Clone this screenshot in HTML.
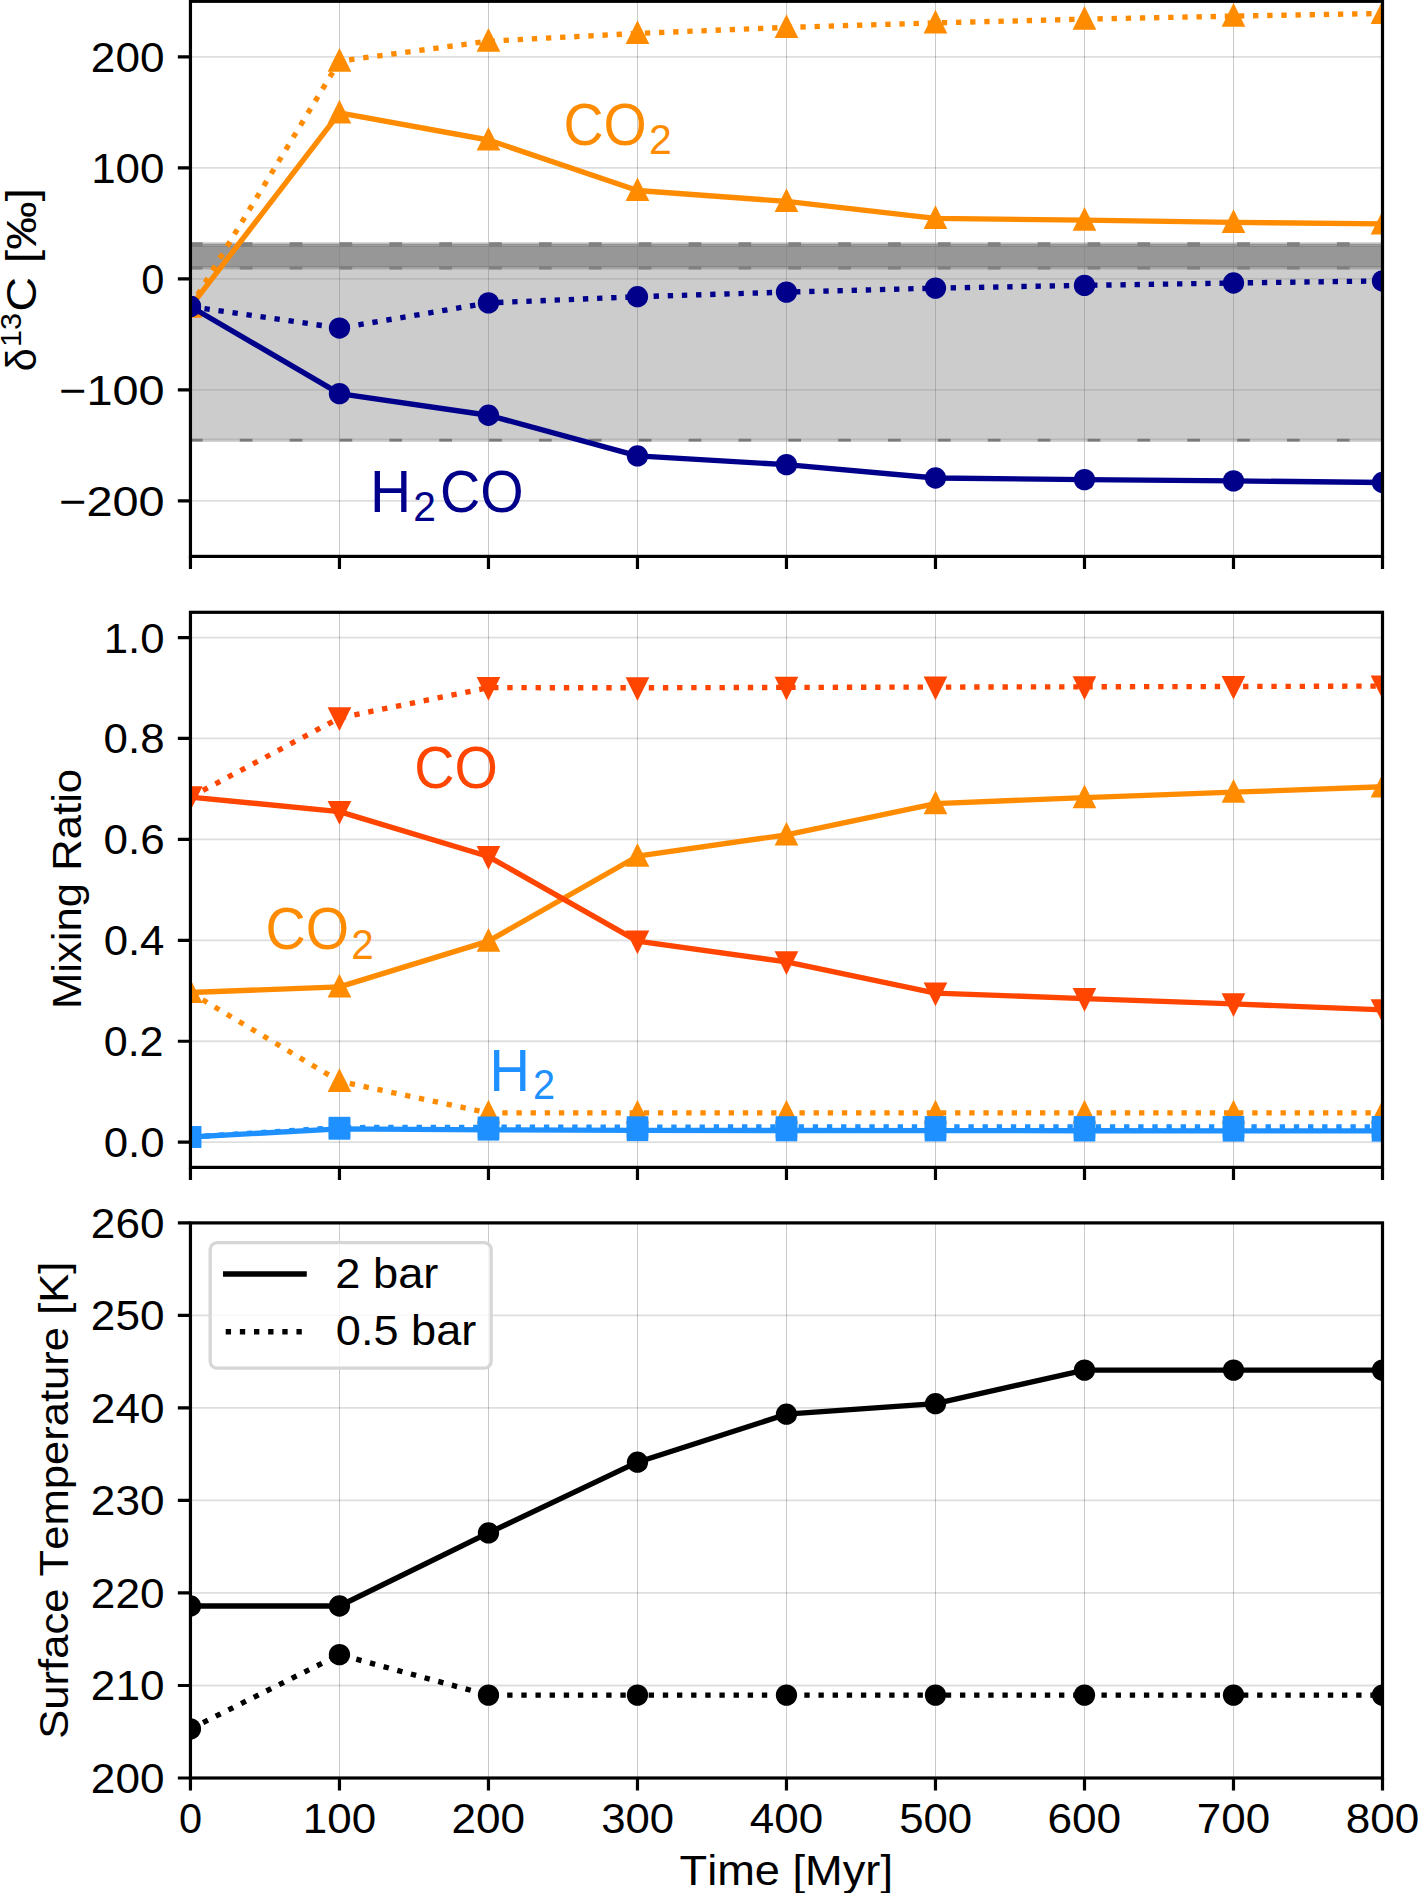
<!DOCTYPE html>
<html><head><meta charset="utf-8"><style>html,body{margin:0;padding:0;background:#fff;}svg{display:block;}text{font-family:"Liberation Sans",sans-serif;font-kerning:none;font-variant-ligatures:none;}</style></head><body>
<svg width="1418" height="1893" viewBox="0 0 1418 1893" font-family="Liberation Sans, sans-serif">
<rect width="1418" height="1893" fill="#fff"/>
<clipPath id="c0"><rect x="190.45" y="1.3" width="1192.05" height="555.1"/></clipPath>
<clipPath id="c1"><rect x="190.45" y="612.3" width="1192.05" height="555.1000000000001"/></clipPath>
<clipPath id="c2"><rect x="190.45" y="1222.9" width="1192.05" height="555.0999999999999"/></clipPath>
<g clip-path="url(#c0)">
<path d="M339.50 1.30V556.40M488.50 1.30V556.40M637.50 1.30V556.40M786.50 1.30V556.40M935.50 1.30V556.40M1084.50 1.30V556.40M1233.50 1.30V556.40" stroke="#000" stroke-opacity="0.212" stroke-width="1" fill="none"/>
<path d="M190.45 500.89H1382.50M190.45 389.87H1382.50M190.45 278.85H1382.50M190.45 167.83H1382.50M190.45 56.81H1382.50" stroke="#000" stroke-opacity="0.13" stroke-width="1.8" fill="none"/>
<rect x="190.45" y="242.40" width="1192.05" height="1.60" fill="#808080" fill-opacity="0.496"/>
<rect x="190.45" y="244.00" width="1192.05" height="0.90" fill="#808080" fill-opacity="0.921"/>
<rect x="190.45" y="244.90" width="1192.05" height="1.10" fill="#808080" fill-opacity="0.772"/>
<rect x="190.45" y="246.00" width="1192.05" height="1.00" fill="#808080" fill-opacity="0.937"/>
<rect x="190.45" y="247.00" width="1192.05" height="19.00" fill="#808080" fill-opacity="0.819"/>
<rect x="190.45" y="266.00" width="1192.05" height="1.70" fill="#808080" fill-opacity="0.953"/>
<rect x="190.45" y="267.70" width="1192.05" height="1.90" fill="#808080" fill-opacity="0.701"/>
<rect x="190.45" y="269.60" width="1192.05" height="168.80" fill="#808080" fill-opacity="0.402"/>
<rect x="190.45" y="438.40" width="1192.05" height="1.45" fill="#808080" fill-opacity="0.622"/>
<rect x="190.45" y="439.85" width="1192.05" height="1.95" fill="#808080" fill-opacity="0.433"/>
<path d="M189.9 244.45H1382.5" stroke="#808080" stroke-width="4.6" stroke-dasharray="12.7 37.17"/>
<path d="M189.9 267.7H1382.5" stroke="#808080" stroke-width="3.4" stroke-dasharray="12.7 37.17"/>
<path d="M189.9 440.1H1382.5" stroke="#7a7a7a" stroke-width="2.8" stroke-dasharray="12.7 37.17"/>
<polyline points="190.45,306.80 339.46,112.90 488.46,140.00 637.47,190.50 786.47,201.40 935.48,218.30 1084.49,220.20 1233.49,222.40 1382.50,223.90" fill="none" stroke="#ff8c00" stroke-width="5.35" stroke-linecap="square" stroke-linejoin="round"/>
<polygon points="190.45,293.70 178.60,317.40 202.30,317.40" fill="#ff8c00"/>
<polygon points="339.46,99.80 327.61,123.50 351.31,123.50" fill="#ff8c00"/>
<polygon points="488.46,126.90 476.61,150.60 500.31,150.60" fill="#ff8c00"/>
<polygon points="637.47,177.40 625.62,201.10 649.32,201.10" fill="#ff8c00"/>
<polygon points="786.47,188.30 774.62,212.00 798.32,212.00" fill="#ff8c00"/>
<polygon points="935.48,205.20 923.63,228.90 947.33,228.90" fill="#ff8c00"/>
<polygon points="1084.49,207.10 1072.64,230.80 1096.34,230.80" fill="#ff8c00"/>
<polygon points="1233.49,209.30 1221.64,233.00 1245.34,233.00" fill="#ff8c00"/>
<polygon points="1382.50,210.80 1370.65,234.50 1394.35,234.50" fill="#ff8c00"/>
<polyline points="190.45,306.80 339.46,61.10 488.46,41.20 637.47,33.40 786.47,27.40 935.48,22.90 1084.49,19.15 1233.49,16.10 1382.50,13.50" fill="none" stroke="#ff8c00" stroke-width="5.35" stroke-dasharray="5.35 8.80" stroke-linecap="butt" stroke-linejoin="round"/>
<polygon points="190.45,293.70 178.60,317.40 202.30,317.40" fill="#ff8c00"/>
<polygon points="339.46,48.00 327.61,71.70 351.31,71.70" fill="#ff8c00"/>
<polygon points="488.46,28.10 476.61,51.80 500.31,51.80" fill="#ff8c00"/>
<polygon points="637.47,20.30 625.62,44.00 649.32,44.00" fill="#ff8c00"/>
<polygon points="786.47,14.30 774.62,38.00 798.32,38.00" fill="#ff8c00"/>
<polygon points="935.48,9.80 923.63,33.50 947.33,33.50" fill="#ff8c00"/>
<polygon points="1084.49,6.05 1072.64,29.75 1096.34,29.75" fill="#ff8c00"/>
<polygon points="1233.49,3.00 1221.64,26.70 1245.34,26.70" fill="#ff8c00"/>
<polygon points="1382.50,0.40 1370.65,24.10 1394.35,24.10" fill="#ff8c00"/>
<polyline points="190.45,306.50 339.46,393.65 488.46,415.25 637.47,455.95 786.47,464.65 935.48,478.00 1084.49,479.60 1233.49,480.90 1382.50,482.50" fill="none" stroke="#00008b" stroke-width="5.35" stroke-linecap="square" stroke-linejoin="round"/>
<circle cx="190.45" cy="306.50" r="10.65" fill="#00008b"/>
<circle cx="339.46" cy="393.65" r="10.65" fill="#00008b"/>
<circle cx="488.46" cy="415.25" r="10.65" fill="#00008b"/>
<circle cx="637.47" cy="455.95" r="10.65" fill="#00008b"/>
<circle cx="786.47" cy="464.65" r="10.65" fill="#00008b"/>
<circle cx="935.48" cy="478.00" r="10.65" fill="#00008b"/>
<circle cx="1084.49" cy="479.60" r="10.65" fill="#00008b"/>
<circle cx="1233.49" cy="480.90" r="10.65" fill="#00008b"/>
<circle cx="1382.50" cy="482.50" r="10.65" fill="#00008b"/>
<polyline points="190.45,306.50 339.46,328.05 488.46,302.90 637.47,296.70 786.47,292.10 935.48,288.10 1084.49,285.40 1233.49,283.00 1382.50,280.90" fill="none" stroke="#00008b" stroke-width="5.35" stroke-dasharray="5.35 8.80" stroke-linecap="butt" stroke-linejoin="round"/>
<circle cx="190.45" cy="306.50" r="10.65" fill="#00008b"/>
<circle cx="339.46" cy="328.05" r="10.65" fill="#00008b"/>
<circle cx="488.46" cy="302.90" r="10.65" fill="#00008b"/>
<circle cx="637.47" cy="296.70" r="10.65" fill="#00008b"/>
<circle cx="786.47" cy="292.10" r="10.65" fill="#00008b"/>
<circle cx="935.48" cy="288.10" r="10.65" fill="#00008b"/>
<circle cx="1084.49" cy="285.40" r="10.65" fill="#00008b"/>
<circle cx="1233.49" cy="283.00" r="10.65" fill="#00008b"/>
<circle cx="1382.50" cy="280.90" r="10.65" fill="#00008b"/>
</g>
<path d="M190.45 556.40V569.00M339.46 556.40V569.00M488.46 556.40V569.00M637.47 556.40V569.00M786.47 556.40V569.00M935.48 556.40V569.00M1084.49 556.40V569.00M1233.49 556.40V569.00M1382.50 556.40V569.00M190.45 500.89H177.85M190.45 389.87H177.85M190.45 278.85H177.85M190.45 167.83H177.85M190.45 56.81H177.85" stroke="#000" stroke-width="3.2" fill="none"/>
<rect x="190.45" y="1.30" width="1192.05" height="555.10" fill="none" stroke="#000" stroke-width="3.2" stroke-linejoin="miter"/>
<text transform="translate(90.86,71.81) scale(1.0569,1)" font-size="41.76" fill="#000">200</text>
<text transform="translate(91.18,182.83) scale(1.0522,1)" font-size="41.76" fill="#000">100</text>
<text transform="translate(141.31,293.85) scale(0.9945,1)" font-size="41.76" fill="#000">0</text>
<text transform="translate(59.05,404.87) scale(1.1222,1)" font-size="41.76" fill="#000">−100</text>
<text transform="translate(59.05,515.89) scale(1.1222,1)" font-size="41.76" fill="#000">−200</text>
<g clip-path="url(#c1)">
<path d="M339.50 612.30V1167.40M488.50 612.30V1167.40M637.50 612.30V1167.40M786.50 612.30V1167.40M935.50 612.30V1167.40M1084.50 612.30V1167.40M1233.50 612.30V1167.40" stroke="#000" stroke-opacity="0.212" stroke-width="1" fill="none"/>
<path d="M190.45 1142.17H1382.50M190.45 1041.24H1382.50M190.45 940.31H1382.50M190.45 839.39H1382.50M190.45 738.46H1382.50M190.45 637.53H1382.50" stroke="#000" stroke-opacity="0.13" stroke-width="1.8" fill="none"/>
<polyline points="190.45,992.50 339.46,986.90 488.46,941.15 637.47,856.20 786.47,834.85 935.48,803.60 1084.49,797.60 1233.49,792.20 1382.50,786.80" fill="none" stroke="#ff8c00" stroke-width="5.35" stroke-linecap="square" stroke-linejoin="round"/>
<polygon points="190.45,979.40 178.60,1003.10 202.30,1003.10" fill="#ff8c00"/>
<polygon points="339.46,973.80 327.61,997.50 351.31,997.50" fill="#ff8c00"/>
<polygon points="488.46,928.05 476.61,951.75 500.31,951.75" fill="#ff8c00"/>
<polygon points="637.47,843.10 625.62,866.80 649.32,866.80" fill="#ff8c00"/>
<polygon points="786.47,821.75 774.62,845.45 798.32,845.45" fill="#ff8c00"/>
<polygon points="935.48,790.50 923.63,814.20 947.33,814.20" fill="#ff8c00"/>
<polygon points="1084.49,784.50 1072.64,808.20 1096.34,808.20" fill="#ff8c00"/>
<polygon points="1233.49,779.10 1221.64,802.80 1245.34,802.80" fill="#ff8c00"/>
<polygon points="1382.50,773.70 1370.65,797.40 1394.35,797.40" fill="#ff8c00"/>
<polyline points="190.45,992.50 339.46,1081.30 488.46,1112.90 637.47,1112.90 786.47,1112.90 935.48,1112.90 1084.49,1112.90 1233.49,1112.90 1382.50,1112.90" fill="none" stroke="#ff8c00" stroke-width="5.35" stroke-dasharray="5.35 8.80" stroke-linecap="butt" stroke-linejoin="round"/>
<polygon points="190.45,979.40 178.60,1003.10 202.30,1003.10" fill="#ff8c00"/>
<polygon points="339.46,1068.20 327.61,1091.90 351.31,1091.90" fill="#ff8c00"/>
<polygon points="488.46,1099.80 476.61,1123.50 500.31,1123.50" fill="#ff8c00"/>
<polygon points="637.47,1099.80 625.62,1123.50 649.32,1123.50" fill="#ff8c00"/>
<polygon points="786.47,1099.80 774.62,1123.50 798.32,1123.50" fill="#ff8c00"/>
<polygon points="935.48,1099.80 923.63,1123.50 947.33,1123.50" fill="#ff8c00"/>
<polygon points="1084.49,1099.80 1072.64,1123.50 1096.34,1123.50" fill="#ff8c00"/>
<polygon points="1233.49,1099.80 1221.64,1123.50 1245.34,1123.50" fill="#ff8c00"/>
<polygon points="1382.50,1099.80 1370.65,1123.50 1394.35,1123.50" fill="#ff8c00"/>
<polyline points="190.45,797.10 339.46,811.60 488.46,856.55 637.47,941.10 786.47,961.85 935.48,993.05 1084.49,998.60 1233.49,1003.90 1382.50,1009.90" fill="none" stroke="#ff4500" stroke-width="5.35" stroke-linecap="square" stroke-linejoin="round"/>
<polygon points="190.45,810.20 178.60,786.50 202.30,786.50" fill="#ff4500"/>
<polygon points="339.46,824.70 327.61,801.00 351.31,801.00" fill="#ff4500"/>
<polygon points="488.46,869.65 476.61,845.95 500.31,845.95" fill="#ff4500"/>
<polygon points="637.47,954.20 625.62,930.50 649.32,930.50" fill="#ff4500"/>
<polygon points="786.47,974.95 774.62,951.25 798.32,951.25" fill="#ff4500"/>
<polygon points="935.48,1006.15 923.63,982.45 947.33,982.45" fill="#ff4500"/>
<polygon points="1084.49,1011.70 1072.64,988.00 1096.34,988.00" fill="#ff4500"/>
<polygon points="1233.49,1017.00 1221.64,993.30 1245.34,993.30" fill="#ff4500"/>
<polygon points="1382.50,1023.00 1370.65,999.30 1394.35,999.30" fill="#ff4500"/>
<polyline points="190.45,797.10 339.46,717.90 488.46,687.65 637.47,687.80 786.47,687.40 935.48,687.10 1084.49,686.80 1233.49,686.50 1382.50,686.10" fill="none" stroke="#ff4500" stroke-width="5.35" stroke-dasharray="5.35 8.80" stroke-linecap="butt" stroke-linejoin="round"/>
<polygon points="190.45,810.20 178.60,786.50 202.30,786.50" fill="#ff4500"/>
<polygon points="339.46,731.00 327.61,707.30 351.31,707.30" fill="#ff4500"/>
<polygon points="488.46,700.75 476.61,677.05 500.31,677.05" fill="#ff4500"/>
<polygon points="637.47,700.90 625.62,677.20 649.32,677.20" fill="#ff4500"/>
<polygon points="786.47,700.50 774.62,676.80 798.32,676.80" fill="#ff4500"/>
<polygon points="935.48,700.20 923.63,676.50 947.33,676.50" fill="#ff4500"/>
<polygon points="1084.49,699.90 1072.64,676.20 1096.34,676.20" fill="#ff4500"/>
<polygon points="1233.49,699.60 1221.64,675.90 1245.34,675.90" fill="#ff4500"/>
<polygon points="1382.50,699.20 1370.65,675.50 1394.35,675.50" fill="#ff4500"/>
<polyline points="190.45,1137.00 339.46,1128.90 488.46,1129.80 637.47,1130.30 786.47,1130.50 935.48,1130.60 1084.49,1130.70 1233.49,1130.80 1382.50,1130.80" fill="none" stroke="#1e90ff" stroke-width="5.35" stroke-linecap="square" stroke-linejoin="round"/>
<rect x="179.65" y="1126.20" width="21.6" height="21.6" fill="#1e90ff"/>
<rect x="328.66" y="1118.10" width="21.6" height="21.6" fill="#1e90ff"/>
<rect x="477.66" y="1119.00" width="21.6" height="21.6" fill="#1e90ff"/>
<rect x="626.67" y="1119.50" width="21.6" height="21.6" fill="#1e90ff"/>
<rect x="775.67" y="1119.70" width="21.6" height="21.6" fill="#1e90ff"/>
<rect x="924.68" y="1119.80" width="21.6" height="21.6" fill="#1e90ff"/>
<rect x="1073.69" y="1119.90" width="21.6" height="21.6" fill="#1e90ff"/>
<rect x="1222.69" y="1120.00" width="21.6" height="21.6" fill="#1e90ff"/>
<rect x="1371.70" y="1120.00" width="21.6" height="21.6" fill="#1e90ff"/>
<polyline points="190.45,1137.00 339.46,1127.60 488.46,1127.30 637.47,1127.10 786.47,1127.00 935.48,1126.90 1084.49,1126.90 1233.49,1126.80 1382.50,1126.80" fill="none" stroke="#1e90ff" stroke-width="5.35" stroke-dasharray="5.35 8.80" stroke-linecap="butt" stroke-linejoin="round"/>
<rect x="179.65" y="1126.20" width="21.6" height="21.6" fill="#1e90ff"/>
<rect x="328.66" y="1116.80" width="21.6" height="21.6" fill="#1e90ff"/>
<rect x="477.66" y="1116.50" width="21.6" height="21.6" fill="#1e90ff"/>
<rect x="626.67" y="1116.30" width="21.6" height="21.6" fill="#1e90ff"/>
<rect x="775.67" y="1116.20" width="21.6" height="21.6" fill="#1e90ff"/>
<rect x="924.68" y="1116.10" width="21.6" height="21.6" fill="#1e90ff"/>
<rect x="1073.69" y="1116.10" width="21.6" height="21.6" fill="#1e90ff"/>
<rect x="1222.69" y="1116.00" width="21.6" height="21.6" fill="#1e90ff"/>
<rect x="1371.70" y="1116.00" width="21.6" height="21.6" fill="#1e90ff"/>
</g>
<path d="M190.45 1167.40V1180.00M339.46 1167.40V1180.00M488.46 1167.40V1180.00M637.47 1167.40V1180.00M786.47 1167.40V1180.00M935.48 1167.40V1180.00M1084.49 1167.40V1180.00M1233.49 1167.40V1180.00M1382.50 1167.40V1180.00M190.45 1142.17H177.85M190.45 1041.24H177.85M190.45 940.31H177.85M190.45 839.39H177.85M190.45 738.46H177.85M190.45 637.53H177.85" stroke="#000" stroke-width="3.2" fill="none"/>
<rect x="190.45" y="612.30" width="1192.05" height="555.10" fill="none" stroke="#000" stroke-width="3.2" stroke-linejoin="miter"/>
<text transform="translate(103.63,1157.17) scale(1.0484,1)" font-size="41.76" fill="#000">0.0</text>
<text transform="translate(103.65,1056.24) scale(1.0330,1)" font-size="41.76" fill="#000">0.2</text>
<text transform="translate(103.63,955.31) scale(1.0479,1)" font-size="41.76" fill="#000">0.4</text>
<text transform="translate(103.62,854.39) scale(1.0548,1)" font-size="41.76" fill="#000">0.6</text>
<text transform="translate(103.62,753.46) scale(1.0505,1)" font-size="41.76" fill="#000">0.8</text>
<text transform="translate(103.74,652.53) scale(1.0464,1)" font-size="41.76" fill="#000">1.0</text>
<g clip-path="url(#c2)">
<path d="M339.50 1222.90V1778.00M488.50 1222.90V1778.00M637.50 1222.90V1778.00M786.50 1222.90V1778.00M935.50 1222.90V1778.00M1084.50 1222.90V1778.00M1233.50 1222.90V1778.00" stroke="#000" stroke-opacity="0.212" stroke-width="1" fill="none"/>
<path d="M190.45 1778.00H1382.50M190.45 1685.48H1382.50M190.45 1592.97H1382.50M190.45 1500.45H1382.50M190.45 1407.93H1382.50M190.45 1315.42H1382.50M190.45 1222.90H1382.50" stroke="#000" stroke-opacity="0.13" stroke-width="1.8" fill="none"/>
<polyline points="190.45,1606.00 339.46,1606.00 488.46,1532.95 637.47,1462.20 786.47,1414.20 935.48,1403.70 1084.49,1370.10 1233.49,1370.10 1382.50,1370.10" fill="none" stroke="#000000" stroke-width="5.35" stroke-linecap="square" stroke-linejoin="round"/>
<circle cx="190.45" cy="1606.00" r="10.65" fill="#000000"/>
<circle cx="339.46" cy="1606.00" r="10.65" fill="#000000"/>
<circle cx="488.46" cy="1532.95" r="10.65" fill="#000000"/>
<circle cx="637.47" cy="1462.20" r="10.65" fill="#000000"/>
<circle cx="786.47" cy="1414.20" r="10.65" fill="#000000"/>
<circle cx="935.48" cy="1403.70" r="10.65" fill="#000000"/>
<circle cx="1084.49" cy="1370.10" r="10.65" fill="#000000"/>
<circle cx="1233.49" cy="1370.10" r="10.65" fill="#000000"/>
<circle cx="1382.50" cy="1370.10" r="10.65" fill="#000000"/>
<polyline points="190.45,1728.85 339.46,1654.60 488.46,1695.10 637.47,1695.10 786.47,1695.10 935.48,1695.10 1084.49,1695.10 1233.49,1695.10 1382.50,1695.10" fill="none" stroke="#000000" stroke-width="5.35" stroke-dasharray="5.35 8.80" stroke-linecap="butt" stroke-linejoin="round"/>
<circle cx="190.45" cy="1728.85" r="10.65" fill="#000000"/>
<circle cx="339.46" cy="1654.60" r="10.65" fill="#000000"/>
<circle cx="488.46" cy="1695.10" r="10.65" fill="#000000"/>
<circle cx="637.47" cy="1695.10" r="10.65" fill="#000000"/>
<circle cx="786.47" cy="1695.10" r="10.65" fill="#000000"/>
<circle cx="935.48" cy="1695.10" r="10.65" fill="#000000"/>
<circle cx="1084.49" cy="1695.10" r="10.65" fill="#000000"/>
<circle cx="1233.49" cy="1695.10" r="10.65" fill="#000000"/>
<circle cx="1382.50" cy="1695.10" r="10.65" fill="#000000"/>
</g>
<path d="M190.45 1778.00V1790.60M339.46 1778.00V1790.60M488.46 1778.00V1790.60M637.47 1778.00V1790.60M786.47 1778.00V1790.60M935.48 1778.00V1790.60M1084.49 1778.00V1790.60M1233.49 1778.00V1790.60M1382.50 1778.00V1790.60M190.45 1778.00H177.85M190.45 1685.48H177.85M190.45 1592.97H177.85M190.45 1500.45H177.85M190.45 1407.93H177.85M190.45 1315.42H177.85M190.45 1222.90H177.85" stroke="#000" stroke-width="3.2" fill="none"/>
<rect x="190.45" y="1222.90" width="1192.05" height="555.10" fill="none" stroke="#000" stroke-width="3.2" stroke-linejoin="miter"/>
<text transform="translate(90.86,1793.00) scale(1.0569,1)" font-size="41.76" fill="#000">200</text>
<text transform="translate(90.86,1700.48) scale(1.0569,1)" font-size="41.76" fill="#000">210</text>
<text transform="translate(90.86,1607.97) scale(1.0569,1)" font-size="41.76" fill="#000">220</text>
<text transform="translate(90.86,1515.45) scale(1.0569,1)" font-size="41.76" fill="#000">230</text>
<text transform="translate(90.86,1422.93) scale(1.0569,1)" font-size="41.76" fill="#000">240</text>
<text transform="translate(90.86,1330.42) scale(1.0569,1)" font-size="41.76" fill="#000">250</text>
<text transform="translate(90.86,1237.90) scale(1.0569,1)" font-size="41.76" fill="#000">260</text>
<text transform="translate(178.89,1833.05) scale(0.9945,1)" font-size="41.76" fill="#000">0</text>
<text transform="translate(302.84,1833.05) scale(1.0522,1)" font-size="41.76" fill="#000">100</text>
<text transform="translate(451.53,1833.05) scale(1.0569,1)" font-size="41.76" fill="#000">200</text>
<text transform="translate(601.20,1833.05) scale(1.0470,1)" font-size="41.76" fill="#000">300</text>
<text transform="translate(749.79,1833.05) scale(1.0532,1)" font-size="41.76" fill="#000">400</text>
<text transform="translate(899.17,1833.05) scale(1.0477,1)" font-size="41.76" fill="#000">500</text>
<text transform="translate(1047.39,1833.05) scale(1.0592,1)" font-size="41.76" fill="#000">600</text>
<text transform="translate(1196.87,1833.05) scale(1.0523,1)" font-size="41.76" fill="#000">700</text>
<text transform="translate(1345.66,1833.05) scale(1.0555,1)" font-size="41.76" fill="#000">800</text>
<rect x="210.2" y="1242.6" width="281" height="125.6" rx="7" ry="7" fill="#fff" fill-opacity="0.8" stroke="#d6d6d6" stroke-width="3.3"/>
<path d="M225.7 1274H304.1" stroke="#000" stroke-width="5.35" stroke-linecap="square"/>
<path d="M225.7 1331.7H304.1" stroke="#000" stroke-width="5.35" stroke-dasharray="5.35 8.80"/>
<text transform="translate(335.33,1287.60) scale(1.0829,1)" font-size="41.76" fill="#000">2 bar</text>
<text transform="translate(335.84,1345.20) scale(1.0802,1)" font-size="41.76" fill="#000">0.5 bar</text>
<text transform="translate(563.48,144.80) scale(0.9270,1)" font-size="59.89" fill="#ff8c00">CO</text>
<text transform="translate(649.04,154.35) scale(0.9791,1)" font-size="41.92" fill="#ff8c00">2</text>
<text transform="translate(370.03,511.65) scale(0.9506,1)" font-size="59.89" fill="#00008b">H</text>
<text transform="translate(413.35,521.05) scale(0.9739,1)" font-size="41.92" fill="#00008b">2</text>
<text transform="translate(439.97,511.65) scale(0.9312,1)" font-size="59.89" fill="#00008b">CO</text>
<text transform="translate(414.27,788.20) scale(0.9318,1)" font-size="59.89" fill="#ff4500">CO</text>
<text transform="translate(265.47,949.40) scale(0.9306,1)" font-size="59.89" fill="#ff8c00">CO</text>
<text transform="translate(351.17,958.90) scale(0.9634,1)" font-size="41.92" fill="#ff8c00">2</text>
<text transform="translate(489.60,1090.60) scale(0.9356,1)" font-size="59.89" fill="#1e90ff">H</text>
<text transform="translate(532.90,1099.45) scale(0.9477,1)" font-size="41.92" fill="#1e90ff">2</text>
<text transform="translate(679.58,1884.50) scale(1.0851,1)" font-size="41.66" fill="#000">Time [Myr]</text>
<text transform="translate(81.20,1009.08) rotate(-90) scale(1.0512,1)" font-size="41.55" fill="#000">Mixing Ratio</text>
<text transform="translate(67.70,1738.78) rotate(-90) scale(1.0549,1)" font-size="41.34" fill="#000">Surface Temperature [K]</text>
<text transform="translate(35.50,311.66) rotate(-90) scale(1.1590,1)" font-size="41.76" fill="#000">C [‰]</text>
<text transform="translate(20.60,346.93) rotate(-90) scale(1.0438,1)" font-size="29.26" fill="#000">13</text>
<text transform="translate(35.50,371.14) rotate(-90) scale(0.9939,1)" font-size="41.76" fill="#000">δ</text>
</svg>
</body></html>
